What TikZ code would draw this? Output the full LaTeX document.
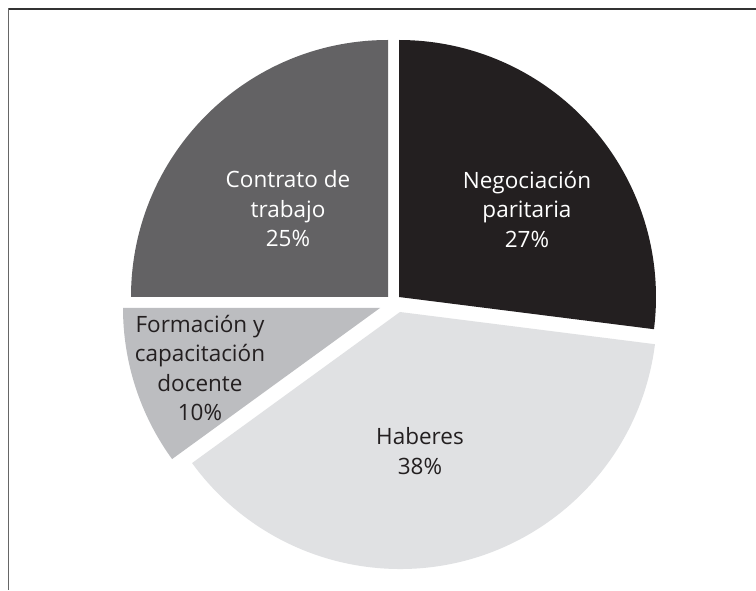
\documentclass[tikz,border=0pt]{standalone}
\usepackage{fontspec}
\setmainfont{Open Sans}
\definecolor{cNeg}{HTML}{231F20}
\definecolor{cHab}{HTML}{E0E1E3}
\definecolor{cFor}{HTML}{BCBDC0}
\definecolor{cCon}{HTML}{636264}
\definecolor{cTop}{HTML}{333333}
\definecolor{cLeft}{HTML}{666666}
\tikzset{
  slice/.style={draw=none},
  lbl/.style={align=center, font=\fontsize{22.5}{29.5}\selectfont, inner sep=0pt},
  lbldark/.style={lbl, text=cNeg},
  lbllight/.style={lbl, text=white},
}
\begin{document}
\begin{tikzpicture}[x=1pt,y=1pt]
\useasboundingbox (0,0) rectangle (756,590);
\fill[white] (0,0) rectangle (756,590);
% frame
\draw[cTop, line width=1.4pt] (8,581) -- (756,581);
\draw[cLeft, line width=1.4pt] (8.6,581.7) -- (8.6,0);
% apexes
\coordinate (aNeg) at (399,293);
\coordinate (aHab) at (400,278);
\coordinate (aFor) at (380,282);
\coordinate (aCon) at (388,293);
% slices
\fill[cNeg] (aNeg) -- ++(90:257) arc[start angle=90, end angle=-7.2, radius=257] -- cycle;
\fill[cHab] (aHab) -- ++(-7.2:257) arc[start angle=-7.2, end angle=-144, radius=257] -- cycle;
\fill[cFor] (aFor) -- ++(-144:257) arc[start angle=-144, end angle=-180, radius=257] -- cycle;
\fill[cCon] (aCon) -- ++(180:257) arc[start angle=180, end angle=90, radius=257] -- cycle;
% labels
\node[lbllight] (tNeg) at (527,381) {Negociación\\paritaria\\27\%};
\node[lbllight] (tCon) at (288,381) {Contrato de\\trabajo\\25\%};
\node[lbldark] (tFor) at (200,222) {Formación y\\capacitación\\docente\\10\%};
\node[lbldark] (tHab) at (420,139) {Haberes\\38\%};
\end{tikzpicture}
\end{document}
